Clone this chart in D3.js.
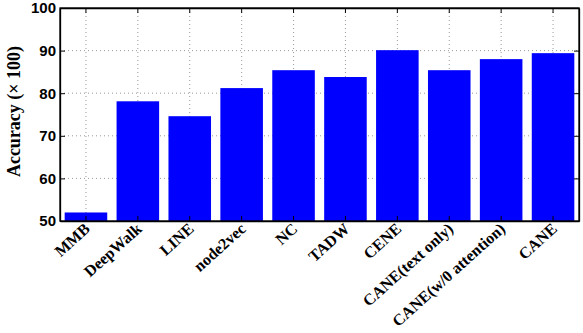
<!DOCTYPE html>
<html>
<head>
<meta charset="utf-8">
<script src="https://cdn.jsdelivr.net/npm/d3@7"></script>
<style>
  body { margin: 0; background: #fff; }
  svg { display: block; }
</style>
</head>
<body>
<div id="chart"></div>
<script>
const methods = ["MMB", "DeepWalk", "LINE", "node2vec", "NC", "TADW", "CENE",
  "CANE(text only)", "CANE(w/0 attention)", "CANE"];
const accuracy = [52.0, 78.1, 74.6, 81.2, 85.4, 83.8, 90.1, 85.4, 88.0, 89.4];
const yTicks = [50, 60, 70, 80, 90, 100];

let width = 583;
let height = 333;
let margin = { top: 8, right: 4, bottom: 112, left: 60 };
let innerW = 579 - margin.left;
let innerH = 221 - margin.top;

let svg = d3
  .select("#chart")
  .append("svg")
  .attr("width", width)
  .attr("height", height);

let g = svg.append("g")
  .attr("transform", "translate(" + margin.left + "," + margin.top + ")");

let x = d3.scaleBand()
  .domain(methods)
  .range([0, innerW])
  .paddingInner(0.18)
  .paddingOuter(0.09);

let y = d3.scaleLinear().domain([50, 100]).range([innerH, 0]);

// grid
g.selectAll(".hgrid")
  .data(yTicks.slice(1, -1))
  .enter().append("line")
  .attr("x1", 0).attr("x2", innerW)
  .attr("y1", (d) => y(d)).attr("y2", (d) => y(d))
  .attr("stroke", "#999")
  .attr("stroke-width", 1)
  .attr("stroke-dasharray", "1,3");

g.selectAll(".vgrid")
  .data(methods)
  .enter().append("line")
  .attr("x1", (d) => x(d) + x.bandwidth() / 2)
  .attr("x2", (d) => x(d) + x.bandwidth() / 2)
  .attr("y1", 0).attr("y2", innerH)
  .attr("stroke", "#999")
  .attr("stroke-width", 1)
  .attr("stroke-dasharray", "1,3");

// bars
g.selectAll(".bar")
  .data(methods)
  .enter().append("rect")
  .attr("x", (d) => x(d))
  .attr("width", x.bandwidth())
  .attr("y", (d, i) => y(accuracy[i]))
  .attr("height", (d, i) => innerH - y(accuracy[i]))
  .attr("fill", "#0000ff");

// axes, ticks inward
let yLeft = d3.axisLeft(y).tickValues(yTicks).tickSizeInner(-5).tickSizeOuter(0).tickPadding(4);
let yRight = d3.axisRight(y).tickValues(yTicks).tickSizeInner(-5).tickSizeOuter(0).tickFormat("");
let xTop = d3.axisTop(x).tickSizeInner(-5).tickSizeOuter(0).tickFormat("");
let xBottom = d3.axisBottom(x).tickSizeInner(-5).tickSizeOuter(0).tickFormat("");

let left = g.append("g").call(yLeft);
left.selectAll("text")
  .attr("font-family", "Liberation Sans, Arial, sans-serif")
  .attr("font-weight", "bold")
  .attr("font-size", 15)
  .attr("fill", "#000");
g.append("g").attr("transform", "translate(" + innerW + ",0)").call(yRight);
g.append("g").call(xTop);
g.append("g").attr("transform", "translate(0," + innerH + ")").call(xBottom);

g.selectAll(".domain").attr("stroke", "#000").attr("stroke-width", 1.3);
g.selectAll(".tick line").attr("stroke", "#000");

// frame
g.append("rect")
  .attr("width", innerW).attr("height", innerH)
  .attr("fill", "none").attr("stroke", "#000").attr("stroke-width", 1.3);

// category labels
g.selectAll(".xlab")
  .data(methods)
  .enter().append("text")
  .attr("transform", (d) => "translate(" + (x(d) + x.bandwidth() / 2 + 4) + "," + (innerH + 8) + ") rotate(-42)")
  .attr("text-anchor", "end")
  .attr("dy", "0.1em")
  .attr("font-family", "Liberation Serif, Times New Roman, serif")
  .attr("font-weight", "bold")
  .attr("font-size", 16)
  .text((d) => d);

// y label
svg.append("text")
  .attr("transform", "translate(19.5," + (margin.top + innerH / 2 - 3) + ") rotate(-90)")
  .attr("text-anchor", "middle")
  .attr("font-family", "Liberation Serif, Times New Roman, serif")
  .attr("font-weight", "bold")
  .attr("font-size", 18)
  .text("Accuracy (\u00d7 100)");
</script>
</body>
</html>
